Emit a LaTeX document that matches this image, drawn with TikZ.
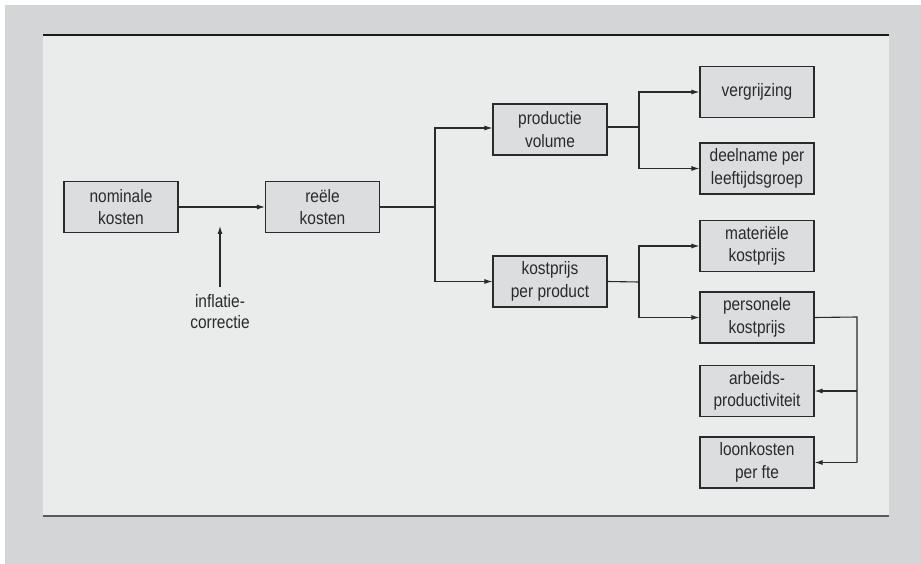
\documentclass[tikz,border=0pt]{standalone}
\usepackage{fontspec}
\setmainfont{Liberation Sans}[FakeStretch=0.86]
\usetikzlibrary{arrows.meta}
\definecolor{outergray}{HTML}{D4D5D7}
\definecolor{panelgray}{HTML}{EAEBEB}
\definecolor{boxgray}{HTML}{DCDDDE}
\definecolor{ink}{HTML}{2A2A2A}
\tikzset{
  box/.style={draw=ink, fill=boxgray, line width=1.1pt, minimum width=114pt,
    minimum height=51pt, inner sep=0pt, align=center, font=\fontsize{18}{22.5}\selectfont,
    text=ink},
  plain/.style={align=center, inner sep=0pt, font=\fontsize{18}{21}\selectfont, text=ink},
  link/.style={draw=ink, line width=1.1pt},
  arr/.style={link, -{Latex[length=8pt,width=5pt]}}
}
\begin{document}
\begin{tikzpicture}[x=1pt,y=-1pt]
  \useasboundingbox (0,0) rectangle (921,564);
  % frame and panel
  \fill[white] (0,0) rectangle (921,564);
  \fill[outergray] (5,5) rectangle (921,564);
  \fill[panelgray] (43,35) rectangle (889,516);
  \draw[line width=1.4pt, color=black!90] (43,35) -- (889,35);
  \draw[line width=1.4pt, color=black!65] (43,516) -- (889,516);

  % boxes
  \node[box] (nom)  at (121,207)   {nominale\\kosten};
  \node[box] (reel) at (322.5,207) {reële\\kosten};
  \node[box] (prod) at (550,129.5) {productie\\volume};
  \node[box] (kost) at (550,281.5) {kostprijs\\per product};
  \node[box] (verg) at (757,92)    {vergrijzing};
  \node[box] (deel) at (757,168.5) {deelname per\\leeftijdsgroep};
  \node[box] (mat)  at (757,246)   {materiële\\kostprijs};
  \node[box] (pers) at (757,317.5) {personele\\kostprijs};
  \node[box] (arb)  at (757,391)   {arbeids-\\productiviteit};
  \node[box] (loon) at (757,462.5) {loonkosten\\per fte};
  \node[plain, anchor=north] (infl) at (220,294) {inflatie-\\correctie};

  % junction points
  \coordinate (tip) at (220,226);
  \coordinate (j1) at (435,207);
  \coordinate (j2) at (639,127);
  \coordinate (j3) at (639,282);
  \coordinate (j4) at (857,317);

  % connectors
  \draw[arr] (nom.east) -- (reel.west);
  \draw[arr] ([yshift=7pt]infl.north) -- (tip);
  \draw[link] (reel.east) -- (j1);
  \draw[arr] (j1) |- ([yshift=1.5pt]prod.west);
  \draw[arr] (j1) |- (kost.west);
  \draw[link] ([yshift=2.5pt]prod.east) -- (j2);
  \draw[arr] (j2) |- (verg.west);
  \draw[arr] (j2) |- (deel.west);
  \draw[link] (kost.east) -- (j3);
  \draw[arr] (j3) |- (mat.west);
  \draw[arr] (j3) |- (pers.west);
  \draw[link] (pers.east) -- (j4) -- (j4 |- loon.east);
  \draw[arr] (j4 |- arb.east) -- (arb.east);
  \draw[arr] (j4 |- loon.east) -- (loon.east);
\end{tikzpicture}
\end{document}
